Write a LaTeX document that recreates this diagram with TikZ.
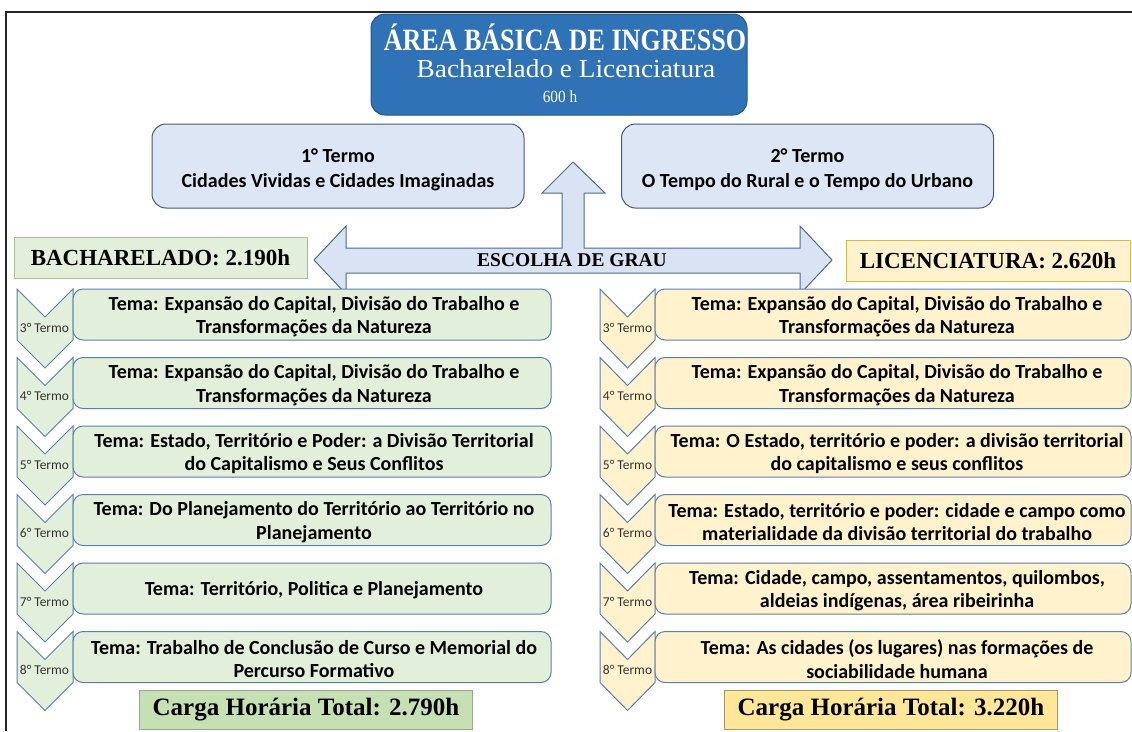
\documentclass[tikz,border=0pt]{standalone}
\usepackage{fontspec}
\setmainfont{Carlito}
\newfontfamily\hdserif{Liberation Serif}
\definecolor{topfill}{HTML}{2F72B5}
\definecolor{topdraw}{HTML}{25598C}
\definecolor{termfill}{HTML}{DCE6F4}
\definecolor{termdraw}{HTML}{4B5A6E}
\definecolor{arrfill}{HTML}{DAE3F3}
\definecolor{arrdraw}{HTML}{4E6A90}
\definecolor{grfill}{HTML}{E2EFDA}
\definecolor{grhdr}{HTML}{A9BF8F}
\definecolor{rowdraw}{HTML}{5A7EB3}
\definecolor{yefill}{HTML}{FFF2CC}
\definecolor{yehdr}{HTML}{D6B656}
\definecolor{grtot}{HTML}{C6E0B4}
\definecolor{grtotd}{HTML}{9AA88E}
\definecolor{yetot}{HTML}{FFE699}
\definecolor{yetotd}{HTML}{A8956A}
\definecolor{lbl}{HTML}{333333}
\tikzset{
  topbox/.style={draw=topdraw, fill=topfill, line width=1pt, rounded corners=14pt, minimum width=376pt, minimum height=101pt},
  termbox/.style={draw=termdraw, fill=termfill, line width=1pt, rounded corners=14pt, minimum width=372pt, minimum height=84pt},
  termtxt/.style={align=center, inner sep=0pt, font=\fontsize{20}{25}\selectfont\bfseries},
  hdrbox/.style={line width=1pt, minimum height=41pt, inner sep=0pt, font=\hdserif\bfseries\fontsize{23}{26}\selectfont},
  shapeline/.style={draw=arrdraw, fill=arrfill, line width=1pt, line join=miter},
  chevg/.style={draw=rowdraw, fill=grfill, line width=1pt},
  chevy/.style={draw=rowdraw, fill=yefill, line width=1pt},
  temabox/.style={draw=rowdraw, line width=1pt, rounded corners=10pt, minimum height=51pt, inner sep=0pt},
  tematxt/.style={align=center, inner sep=0pt, font=\fontsize{20}{23.5}\selectfont\bfseries},
  termlbl/.style={text=lbl, font=\fontsize{13.5}{14}\selectfont, inner sep=0pt},
  totbox/.style={line width=1pt, minimum height=39pt, minimum width=333pt, inner sep=0pt, font=\hdserif\bfseries\fontsize{25}{28}\selectfont}
}
\begin{document}
\begin{tikzpicture}[x=1pt,y=-1pt]
\useasboundingbox (0,0) rectangle (1132,731);
\fill[white] (0,0) rectangle (1132,731);
\draw[line width=2.5pt, black!85] (6,731) -- (6,12) -- (1132,12);

% top box
\node[topbox] (top) at (559,64.5) {};
\node[text=white, inner sep=0pt, font=\hdserif\bfseries\fontsize{31}{32}\selectfont] (topa) at (565,37) {\scalebox{0.84}[1]{ÁREA BÁSICA DE INGRESSO}};
\node[text=white, inner sep=0pt, font=\hdserif\fontsize{26}{28}\selectfont] (topb) at (566,69) {\scalebox{1.05}[1]{Bacharelado e Licenciatura}};
\node[text=white, inner sep=0pt, font=\hdserif\fontsize{17}{18}\selectfont] (topc) at (560,97) {\scalebox{0.9}[1]{600 h}};

% term boxes
\node[termbox] (t1) at (338,166) {};
\node[termtxt] (t1t) at (338,170) {1° Termo\\Cidades Vividas e Cidades Imaginadas};
\node[termbox] (t2) at (807.5,166) {};
\node[termtxt] (t2t) at (807.5,170) {2° Termo\\O Tempo do Rural e o Tempo do Urbano};

% choice arrow
\draw[shapeline] (314,260) -- (346,226) -- (346,248) -- (562,248) -- (562,193) -- (542,193)
  -- (573,162) -- (605,193) -- (584,193) -- (584,248) -- (800,248) -- (800,226) -- (832,260)
  -- (800,294) -- (800,273) -- (346,273) -- (346,294) -- cycle;
\node[inner sep=0pt, font=\hdserif\bfseries\fontsize{19.5}{20}\selectfont] (esc) at (572,260) {ESCOLHA DE GRAU};

% headers
\node[hdrbox, draw=grhdr, fill=grfill, minimum width=293pt] (bach) at (160.5,257.5) {BACHARELADO: 2.190h};
\node[hdrbox, draw=yehdr, fill=yefill, minimum width=284pt] (lic) at (988,260.5) {LICENCIATURA: 2.620h};

% left column
\foreach \i/\yt/\txt in {
  3/289/{Tema: Expansão do Capital, Divisão do Trabalho e\\Transformações da Natureza},
  4/357.5/{Tema: Expansão do Capital, Divisão do Trabalho e\\Transformações da Natureza},
  5/426/{Tema: Estado, Território e Poder: a Divisão Territorial\\do Capitalismo e Seus Conflitos},
  6/494.5/{Tema: Do Planejamento do Território ao Território no\\Planejamento},
  7/563/{Tema: Território, Politica e Planejamento},
  8/631.5/{Tema: Trabalho de Conclusão de Curso e Memorial do\\Percurso Formativo}}{
  \draw[chevg] (17,\yt) -- (45,\yt+28) -- (73,\yt) -- (73,\yt+51) -- (45,\yt+79) -- (17,\yt+51) -- cycle;
  \node[temabox, fill=grfill, minimum width=478pt] (g\i) at (312,\yt+25.5) {};
  \node[tematxt] (gt\i) at (314,\yt+27.5) {\txt};
  \node[termlbl] (gl\i) at (44.5,\yt+38.5) {\i° Termo};
}

% right column
\foreach \i/\yt/\txt in {
  3/289/{Tema: Expansão do Capital, Divisão do Trabalho e\\Transformações da Natureza},
  4/357.5/{Tema: Expansão do Capital, Divisão do Trabalho e\\Transformações da Natureza},
  5/426/{Tema: O Estado, território e poder: a divisão territorial\\do capitalismo e seus conflitos},
  6/494.5/{Tema: Estado, território e poder: cidade e campo como\\materialidade da divisão territorial do trabalho},
  7/563/{Tema: Cidade, campo, assentamentos, quilombos,\\aldeias indígenas, área ribeirinha},
  8/631.5/{Tema: As cidades (os lugares) nas formações de\\sociabilidade humana}}{
  \draw[chevy] (600,\yt) -- (627.5,\yt+28) -- (655,\yt) -- (655,\yt+51) -- (627.5,\yt+79) -- (600,\yt+51) -- cycle;
  \node[temabox, fill=yefill, minimum width=476pt] (y\i) at (893,\yt+25.5) {};
  \node[tematxt] (yt\i) at (897,\yt+27.5) {\txt};
  \node[termlbl] (yl\i) at (627.5,\yt+38.5) {\i° Termo};
}

% totals
\node[totbox, draw=grtotd, fill=grtot] (gtot) at (306,709.5) {Carga Horária Total: 2.790h};
\node[totbox, draw=yetotd, fill=yetot] (ytot) at (891,709.5) {Carga Horária Total: 3.220h};
\end{tikzpicture}
\end{document}
